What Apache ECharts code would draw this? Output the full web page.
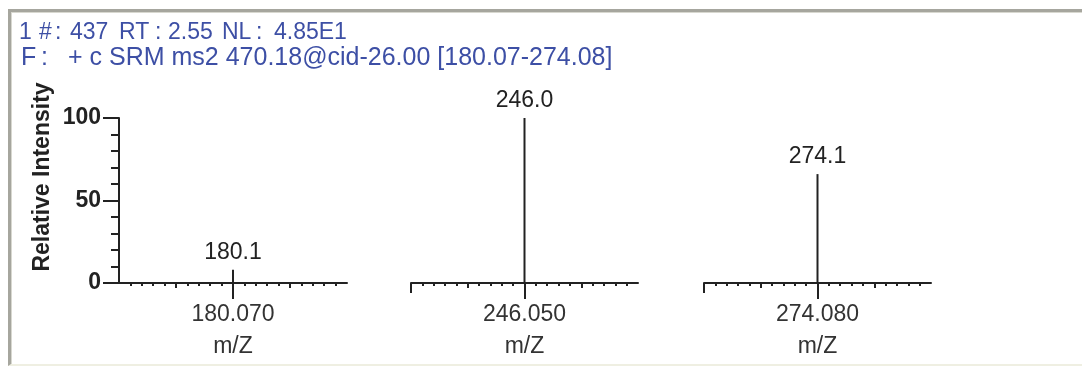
<!DOCTYPE html>
<html>
<head>
<meta charset="utf-8">
<script src="https://cdn.jsdelivr.net/npm/echarts@6/dist/echarts.min.js"></script>
<style>
  html, body { margin: 0; padding: 0; background: #ffffff; }
  #wrap { position: relative; width: 1082px; height: 374px; overflow: hidden; }
  #frame { position: absolute; left: 8px; top: 9px; width: 1100px; height: 352px;
           border-top: 3px solid #a6a69e; border-left: 3px solid #a6a69e;
           border-bottom: 2px solid #efefe2; box-shadow: inset 1px 1px 0 #d8d8d0; }
  #chart { position: absolute; left: 0; top: 0; width: 1082px; height: 374px; }
</style>
</head>
<body>
<div id="wrap">
  <div id="frame"></div>
  <div id="chart"></div>
</div>
<script>
// ---- data ----
const mzCenters = [180.07, 246.05, 274.08];
const centerTickLabels = ['180.070', '246.050', '274.080'];
const intensities = [8, 100, 66];
const peakLabels = ['180.1', '246.0', '274.1'];
const headerLine1 = ['1', '#', ':', '437', 'RT', ':', '2.55', 'NL', ':', '4.85E1'];
const headerLine2 = ['F', ':', '+ c SRM ms2 470.18@cid-26.00 [180.07-274.08]'];
const yAxisTitle = 'Relative Intensity';
const xAxisTitle = 'm/Z';

// ---- layout ----
const HALF = 0.5;
const STEP = HALF / 10;
const gridLefts = [119, 411, 704];
const gridWidths = [228, 227, 227];
const GRID_TOP = 118, GRID_H = 165;
const FONT = '"Liberation Sans", Arial, sans-serif';
const INK = '#222';
const BLUE = '#3d4fa5';
const header1X = [19, 39, 55, 70, 119, 155, 168, 222, 256, 274];
const header2X = [21, 41, 68];

const grids = [], xAxes = [], yAxes = [], series = [];
const mainAxisIndex = [];
mzCenters.forEach((c, i) => {
  grids.push({ left: gridLefts[i], top: GRID_TOP, width: gridWidths[i], height: GRID_H, containLabel: false });
  const lo = c - HALF, hi = c + HALF;
  const minor = [];
  for (let k = 1; k <= 9; k++) { if (k !== 5) { minor.push(c - k * STEP, c + k * STEP); } }
  const base = { type: 'value', gridIndex: i, min: lo, max: hi, position: 'bottom', splitLine: { show: false } };
  mainAxisIndex.push(xAxes.length);
  // main axis: line, minor ticks, centre label, name
  xAxes.push(Object.assign({}, base, {
    axisLine: { show: true, lineStyle: { color: INK, width: 2 } },
    axisTick: { show: true, customValues: minor, length: 3, lineStyle: { color: INK, width: 2 } },
    axisLabel: { show: true, customValues: [c], margin: 20, color: '#333', fontSize: 23, fontFamily: FONT,
                 formatter: () => centerTickLabels[i] },
    name: xAxisTitle, nameLocation: 'middle', nameGap: 52,
    nameTextStyle: { color: '#333', fontSize: 23, fontFamily: FONT }
  }));
  // medium ticks
  xAxes.push(Object.assign({}, base, {
    axisLine: { show: false },
    axisTick: { show: true, customValues: [c - HALF / 2, c + HALF / 2], length: 5, lineStyle: { color: INK, width: 2 } },
    axisLabel: { show: false }
  }));
  // major centre tick
  xAxes.push(Object.assign({}, base, {
    axisLine: { show: false },
    axisTick: { show: true, customValues: [c], length: 16, lineStyle: { color: INK, width: 2 } },
    axisLabel: { show: false }
  }));
  // left edge tick for panels without a visible y axis
  if (i > 0) {
    xAxes.push(Object.assign({}, base, {
      axisLine: { show: false },
      axisTick: { show: true, customValues: [lo], length: 10, lineStyle: { color: INK, width: 2 } },
      axisLabel: { show: false }
    }));
  }
  yAxes.push({
    type: 'value', gridIndex: i, min: 0, max: 100, interval: 50, show: i === 0,
    splitLine: { show: false },
    axisLine: { show: true, lineStyle: { color: INK, width: 2 } },
    axisTick: { show: true, length: 16, lineStyle: { color: INK, width: 2 } },
    minorTick: { show: true, splitNumber: 5, length: 8, lineStyle: { color: INK, width: 2 } },
    axisLabel: { margin: 18, color: INK, fontSize: 23, fontWeight: 'bold', fontFamily: FONT }
  });
});

mzCenters.forEach((c, i) => {
  series.push({
    type: 'bar', xAxisIndex: mainAxisIndex[i], yAxisIndex: i,
    barWidth: 2, itemStyle: { color: INK },
    label: { show: true, position: 'top', distance: 6, color: INK, fontSize: 23, fontFamily: FONT,
             formatter: () => peakLabels[i] },
    data: [[c, intensities[i]]],
    silent: true, animation: false
  });
});

const graphics = [];
headerLine1.forEach((t, k) => graphics.push({ type: 'text', left: header1X[k], top: 21,
  style: { text: t, fill: BLUE, font: '23px ' + FONT } }));
headerLine2.forEach((t, k) => graphics.push({ type: 'text', left: header2X[k], top: 46,
  style: { text: t, fill: BLUE, font: '25px ' + FONT } }));
graphics.push({ type: 'text', x: 43, y: 177, rotation: Math.PI / 2,
  style: { text: yAxisTitle, fill: INK, font: 'bold 23px ' + FONT, textAlign: 'center', textVerticalAlign: 'middle' } });

const chart = echarts.init(document.getElementById('chart'), null, { renderer: 'canvas' });
chart.setOption({
  backgroundColor: 'transparent',
  animation: false,
  grid: grids, xAxis: xAxes, yAxis: yAxes, series: series, graphic: graphics
});
</script>
</body>
</html>
